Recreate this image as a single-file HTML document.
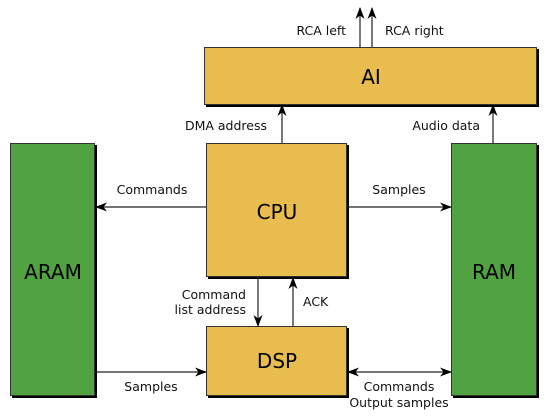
<!DOCTYPE html>
<html><head><meta charset="utf-8"><style>html,body{margin:0;padding:0;background:#fff}svg{display:block}</style></head><body>
<svg width="549" height="420" viewBox="0 0 549 420" xmlns="http://www.w3.org/2000/svg" font-family="DejaVu Sans, Liberation Sans, sans-serif">
<defs>
<marker id="a" viewBox="0 0 12 10" refX="11" refY="5" markerWidth="12" markerHeight="10" orient="auto-start-reverse" markerUnits="userSpaceOnUse">
<path d="M0,0.5 L12,5 L0,9.5 L3.5,5 Z" fill="#000"/></marker>
</defs>
<g fill="#000">
<rect x="206" y="49" width="333" height="58"/>
<rect x="208" y="145" width="141" height="134"/>
<rect x="208" y="328" width="141" height="70"/>
<rect x="12" y="145" width="85" height="253"/>
<rect x="453" y="145" width="86" height="253"/>
</g>
<g stroke="#333" stroke-width="1">
<rect x="204.5" y="47.5" width="332" height="57" fill="#e9bc50"/>
<rect x="206.5" y="143.5" width="140" height="133" fill="#e9bc50"/>
<rect x="206.5" y="326.5" width="140" height="69" fill="#e9bc50"/>
<rect x="10.5" y="143.5" width="84" height="252" fill="#51a241"/>
<rect x="451.5" y="143.5" width="85" height="252" fill="#51a241"/>
</g>
<g stroke="#222" stroke-width="1.2" fill="none" marker-end="url(#a)">
<line x1="360" y1="47" x2="360" y2="8"/>
<line x1="372" y1="47" x2="372" y2="8"/>
<line x1="282" y1="143" x2="282" y2="105"/>
<line x1="493" y1="143" x2="493" y2="105"/>
<line x1="206" y1="207" x2="96" y2="207"/>
<line x1="347" y1="207" x2="451" y2="207"/>
<line x1="258" y1="277" x2="258" y2="326"/>
<line x1="293" y1="326" x2="293" y2="278"/>
<line x1="95" y1="372" x2="206" y2="372"/>
<line x1="348" y1="372" x2="451" y2="372" marker-start="url(#a)"/>
</g>
<g font-size="20" text-anchor="middle" fill="#000">
<text x="371" y="84">AI</text>
<text x="277" y="219">CPU</text>
<text x="277" y="368">DSP</text>
<text x="53" y="279">ARAM</text>
<text x="494" y="279">RAM</text>
</g>
<g font-size="12.5" fill="#111">
<text x="346" y="35" text-anchor="end">RCA left</text>
<text x="385" y="35">RCA right</text>
<text x="267" y="130" text-anchor="end">DMA address</text>
<text x="480" y="130" text-anchor="end">Audio data</text>
<text x="152" y="194" text-anchor="middle">Commands</text>
<text x="399" y="194" text-anchor="middle">Samples</text>
<text x="246" y="299" text-anchor="end">Command</text>
<text x="246" y="314" text-anchor="end">list address</text>
<text x="303" y="306">ACK</text>
<text x="151" y="391" text-anchor="middle">Samples</text>
<text x="399" y="391" text-anchor="middle">Commands</text>
<text x="399" y="407" text-anchor="middle">Output samples</text>
</g>
</svg>
</body></html>
